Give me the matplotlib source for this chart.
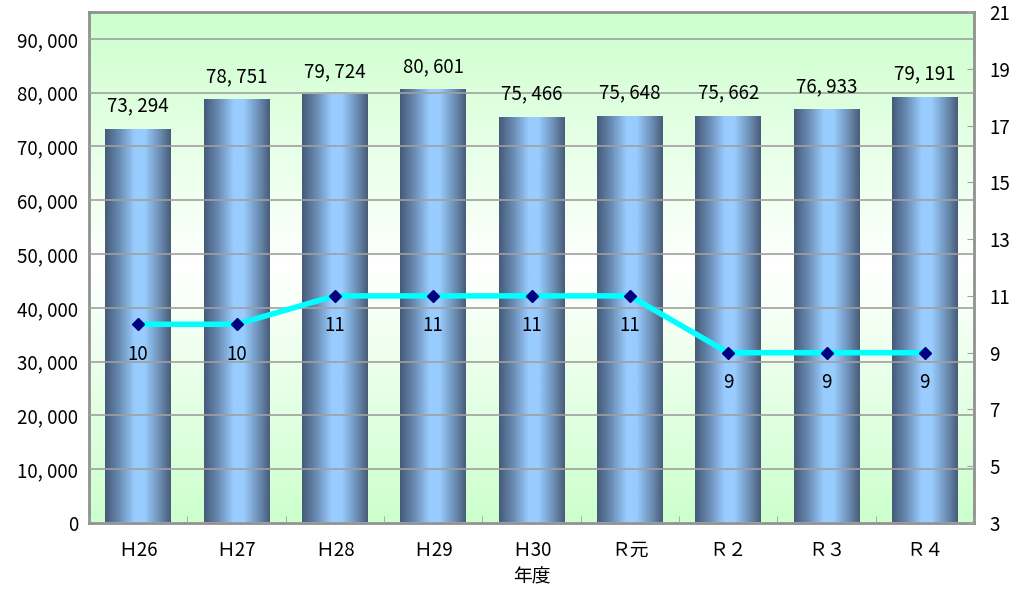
import numpy as np
import matplotlib
matplotlib.use("Agg")
import matplotlib.pyplot as plt
from matplotlib.colors import LinearSegmentedColormap

plt.rcParams['font.family'] = ['Noto Sans CJK JP', 'DejaVu Sans']

years = ['Ｈ26', 'Ｈ27', 'Ｈ28', 'Ｈ29', 'Ｈ30', 'Ｒ元', 'Ｒ２', 'Ｒ３', 'Ｒ４']
bar_vals = [73294, 78751, 79724, 80601, 75466, 75648, 75662, 76933, 79191]
line_vals = [10, 10, 11, 11, 11, 11, 9, 9, 9]
left_ticks = list(range(0, 90001, 10000))
right_ticks = list(range(3, 22, 2))


def fmt(v):
    return f"{v:,}".replace(",", ", ")


fig = plt.figure(figsize=(10.16, 5.91), dpi=100)
ax = fig.add_axes([0.0876, 0.115, 0.8711, 0.8647])
x = np.arange(len(years))

# background: green - white - green
bg = LinearSegmentedColormap.from_list('bg', ['#ccffcc', '#ffffff', '#ccffcc'])
ax.imshow(np.linspace(0, 1, 256).reshape(-1, 1), cmap=bg, aspect='auto',
          extent=[0, 1, 0, 1], transform=ax.transAxes, zorder=0)

ax.set_xlim(-0.5, len(years) - 0.5)
ax.set_ylim(0, 95000)
ax.set_yticks(left_ticks)
ax.set_yticklabels([fmt(v) for v in left_ticks], fontsize=13.5)
ax.yaxis.grid(True, color='#a0a0a0', lw=1.2, zorder=1)
ax.set_axisbelow(False)

bars = ax.bar(x, bar_vals, width=0.67, color='none', zorder=2)
shade = LinearSegmentedColormap.from_list(
    'bar', [(0, '#455a78'), (0.22, '#6a8cb4'), (0.45, '#99ccff'), (0.6, '#99ccff'),
            (0.83, '#6d8fb5'), (1, '#485c78')])
grad = np.linspace(0, 1, 256).reshape(1, -1)
for b in bars:
    x0, w, h = b.get_x(), b.get_width(), b.get_height()
    im = ax.imshow(grad, cmap=shade, aspect='auto', extent=[x0, x0 + w, 0, h], zorder=2)
    im.set_clip_path(b)
    ax.text(x0 + w / 2, h + 2300, fmt(h), ha='center', va='bottom', fontsize=13.5, zorder=5)

ax.set_xticks(x)
ax.set_xticklabels(years, fontsize=13.5)
ax.set_xticks(np.arange(-0.5, len(years) + 0.5, 1), minor=True)
ax.tick_params(axis='x', which='major', length=0, pad=12)
ax.tick_params(axis='x', which='minor', direction='in', length=5, color='#a0a0a0')
ax.tick_params(axis='y', length=0, pad=8)
ax.set_xlabel('年度', fontsize=13.5, labelpad=4)

for s in ax.spines.values():
    s.set_color('#909090')
    s.set_linewidth(2)

ax2 = ax.twinx()
ax2.set_ylim(3, 21)
ax2.set_yticks(right_ticks)
ax2.set_yticklabels([str(v) for v in right_ticks], fontsize=13.5)
ax2.tick_params(axis='y', direction='in', length=5, color='#a0a0a0', pad=11)
for s in ax2.spines.values():
    s.set_visible(False)
ax2.plot(x, line_vals, color='#00ffff', lw=4, marker='D', ms=6,
         mfc='#000080', mec='#000080', zorder=4)
for xi, v in zip(x, line_vals):
    ax2.text(xi, v - 1.05, str(v), ha='center', va='center', fontsize=13.5, zorder=5)

fig.savefig('out.png', dpi=100)
